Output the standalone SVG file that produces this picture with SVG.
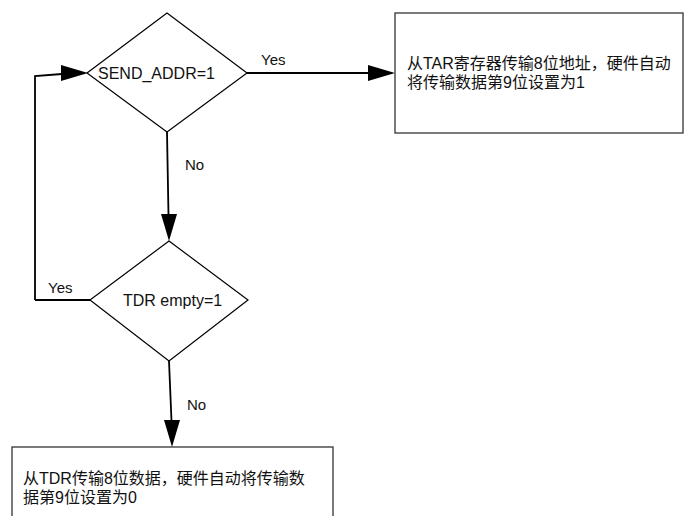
<svg xmlns="http://www.w3.org/2000/svg" width="685" height="516" viewBox="0 0 685 516">
<style>
.shape{fill:#ffffff;stroke:#000000;stroke-width:1.2}
.box{fill:#ffffff;stroke:#333333;stroke-width:1.3}
.line{fill:none;stroke:#000000;stroke-width:1.8}
.head{fill:#000000;stroke:none}
text{font-family:"Liberation Sans","Noto Sans CJK SC",Arial,sans-serif;font-size:16px;fill:#111111}
.lbl{font-size:15px}
</style>
<g id="connectors">
<polyline class="line" points="35,300 35,76 62,74"/>
<polygon class="head" points="88,73 61,65 61,81"/>
<line class="line" x1="247" y1="73" x2="370" y2="73"/>
<polygon class="head" points="395,73 368,65 368,81"/>
<line class="line" x1="167" y1="132" x2="168.5" y2="216"/>
<polygon class="head" points="169,241 161,214 177,214"/>
<line class="line" x1="90" y1="300" x2="35" y2="300"/>
<line class="line" x1="169" y1="361" x2="171.5" y2="421"/>
<polygon class="head" points="172,447 164,420 180,420"/>
<text class="lbl" x="261" y="65">Yes</text>
<text class="lbl" x="185" y="170">No</text>
<text class="lbl" x="48" y="293">Yes</text>
<text class="lbl" x="187" y="410">No</text>
</g>
<g id="node-send-addr">
<polygon class="shape" points="167,13 247,73 167,132 87,73"/>
<text x="98" y="79">SEND_ADDR=1</text>
</g>
<g id="node-tar-box">
<rect class="box" x="395" y="13" width="288" height="120"/>
<text x="407" y="69">从TAR寄存器传输8位地址，硬件自动</text>
<text x="407" y="88">将传输数据第9位设置为1</text>
</g>
<g id="node-tdr-empty">
<polygon class="shape" points="169,241 248,300 169,361 90,300"/>
<text x="123" y="306">TDR empty=1</text>
</g>
<g id="node-tdr-box">
<rect class="box" x="12" y="447" width="321" height="80"/>
<text x="23" y="484">从TDR传输8位数据，硬件自动将传输数</text>
<text x="23" y="503">据第9位设置为0</text>
</g>
</svg>
